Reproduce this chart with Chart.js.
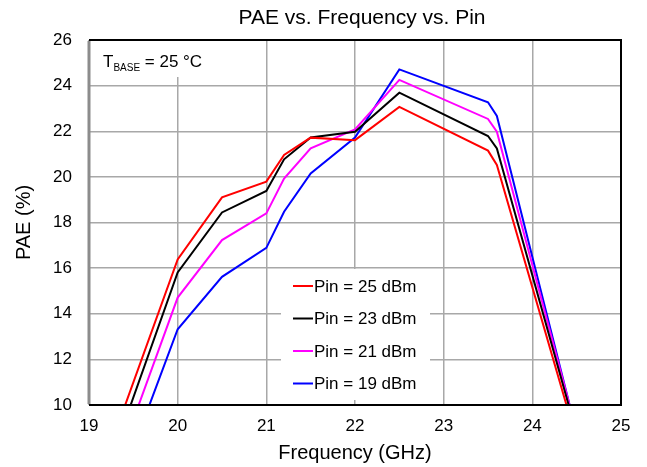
<!DOCTYPE html>
<html>
<head>
<meta charset="utf-8">
<script src="https://cdn.jsdelivr.net/npm/chart.js@4.4.1/dist/chart.umd.min.js"></script>
<style>
  html, body { margin: 0; padding: 0; background: #fff; }
  #wrap { width: 647px; height: 467px; }
</style>
</head>
<body>
<div id="wrap"><canvas id="paeChart" width="647" height="467"></canvas></div>
<script>
// values (the first and last points sit outside the axis range and get clipped)
const freqGHz = [19, 20, 20.5, 21, 21.2, 21.5, 22, 22.5, 23.5, 23.6, 24.5];
const pae25 = [5.6, 16.38, 19.1, 19.79, 20.96, 21.72, 21.61, 23.07, 21.15, 20.52, 8.46];
const pae23 = [4.85, 15.81, 18.44, 19.38, 20.77, 21.73, 21.98, 23.69, 21.79, 21.25, 8.74];
const pae21 = [4.0, 14.71, 17.23, 18.4, 19.93, 21.25, 22.08, 24.25, 22.54, 21.98, 8.83];
const pae19 = [2.9, 13.32, 15.62, 16.89, 18.47, 20.15, 21.72, 24.71, 23.27, 22.67, 8.77];
const seriesLabels = ['Pin = 25 dBm', 'Pin = 23 dBm', 'Pin = 21 dBm', 'Pin = 19 dBm'];
const seriesColors = ['#ff0000', '#000000', '#ff00ff', '#0000ff'];
const xTicks = [19, 20, 21, 22, 23, 24, 25];
const yTicks = [10, 12, 14, 16, 18, 20, 22, 24, 26];

const FONT = "'Liberation Sans', Arial, Helvetica, sans-serif";
const TITLE = 'PAE vs. Frequency vs. Pin';

function toPoints(values) {
    return freqGHz.map((f, i) => ({ x: f, y: values[i] }));
}

const allSeries = [pae25, pae23, pae21, pae19];

// white boxes, T_BASE note, legend, title and the frame
const overlayPlugin = {
    id: 'overlay',
    beforeDatasetsDraw(chart) {
        const { ctx, chartArea: a } = chart;
        ctx.save();
        ctx.fillStyle = '#fff';
        ctx.fillRect(a.left + 1, a.top + 1, 140, 36);
        ctx.fillRect(281, 269, 149, 131);

        // T_BASE = 25 °C
        ctx.fillStyle = '#000';
        ctx.textBaseline = 'alphabetic';
        ctx.textAlign = 'left';
        ctx.font = '17px ' + FONT;
        let tx = 103;
        ctx.fillText('T', tx, 67);
        tx += ctx.measureText('T').width;
        ctx.font = '10px ' + FONT;
        ctx.fillText('BASE', tx, 71);
        tx += ctx.measureText('BASE').width;
        ctx.font = '17px ' + FONT;
        ctx.fillText(' = 25 °C', tx, 67);

        // legend
        ctx.textBaseline = 'middle';
        chart.data.datasets.forEach((ds, i) => {
            const ly = 286 + i * 32.5;
            ctx.strokeStyle = ds.borderColor;
            ctx.lineWidth = 2;
            ctx.beginPath();
            ctx.moveTo(293, ly);
            ctx.lineTo(313, ly);
            ctx.stroke();
            ctx.fillStyle = '#000';
            ctx.font = '17px ' + FONT;
            ctx.fillText(ds.label, 314, ly + 1);
        });
        ctx.restore();
    },
    afterDraw(chart) {
        const { ctx, chartArea: a } = chart;
        ctx.save();
        ctx.strokeStyle = '#000';
        ctx.lineWidth = 2;
        ctx.beginPath();
        ctx.moveTo(a.left, a.top);
        ctx.lineTo(a.right, a.top);
        ctx.lineTo(a.right, a.bottom);
        ctx.lineTo(a.left, a.bottom);
        ctx.stroke();
        ctx.strokeStyle = '#8c8c8c';
        ctx.lineWidth = 3;
        ctx.beginPath();
        ctx.moveTo(a.left, a.top + 1);
        ctx.lineTo(a.left, a.bottom - 1);
        ctx.stroke();

        ctx.fillStyle = '#000';
        ctx.font = '21px ' + FONT;
        ctx.textAlign = 'center';
        ctx.textBaseline = 'middle';
        ctx.fillText(TITLE, 362, 18);
        ctx.restore();
    }
};

new Chart(document.getElementById('paeChart'), {
    type: 'line',
    data: {
        datasets: allSeries.map((vals, i) => ({
            label: seriesLabels[i],
            data: toPoints(vals),
            borderColor: seriesColors[i],
            backgroundColor: seriesColors[i],
            borderWidth: 2,
            pointRadius: 0,
            tension: 0,
            fill: false
        }))
    },
    options: {
        responsive: false,
        animation: false,
        layout: { padding: { left: 0, right: 26, top: 40, bottom: 0 } },
        plugins: {
            legend: { display: false },
            tooltip: { enabled: false },
            title: { display: false }
        },
        scales: {
            x: {
                type: 'linear',
                min: 19,
                max: 25,
                afterBuildTicks: s => { s.ticks = xTicks.map(v => ({ value: v })); },
                afterFit: s => { s.height = 62; },
                grid: { color: '#a8a8a8', lineWidth: 1.5, drawTicks: false },
                border: { display: false },
                ticks: { color: '#000', padding: 11, font: { family: FONT, size: 17 } },
                title: {
                    display: true,
                    text: 'Frequency (GHz)',
                    color: '#000',
                    font: { family: FONT, size: 20, lineHeight: 1.2 },
                    padding: { top: 0, bottom: 2 }
                }
            },
            y: {
                min: 10,
                max: 26,
                afterBuildTicks: s => { s.ticks = yTicks.map(v => ({ value: v })); },
                afterFit: s => { s.width = 89; },
                grid: { color: '#a8a8a8', lineWidth: 1.5, drawTicks: false },
                border: { display: false },
                ticks: { color: '#000', padding: 17, font: { family: FONT, size: 17 } },
                title: {
                    display: true,
                    text: 'PAE (%)',
                    color: '#000',
                    font: { family: FONT, size: 20, lineHeight: 1.2 },
                    padding: { top: 12, bottom: 0 }
                }
            }
        }
    },
    plugins: [overlayPlugin]
});
</script>
</body>
</html>
